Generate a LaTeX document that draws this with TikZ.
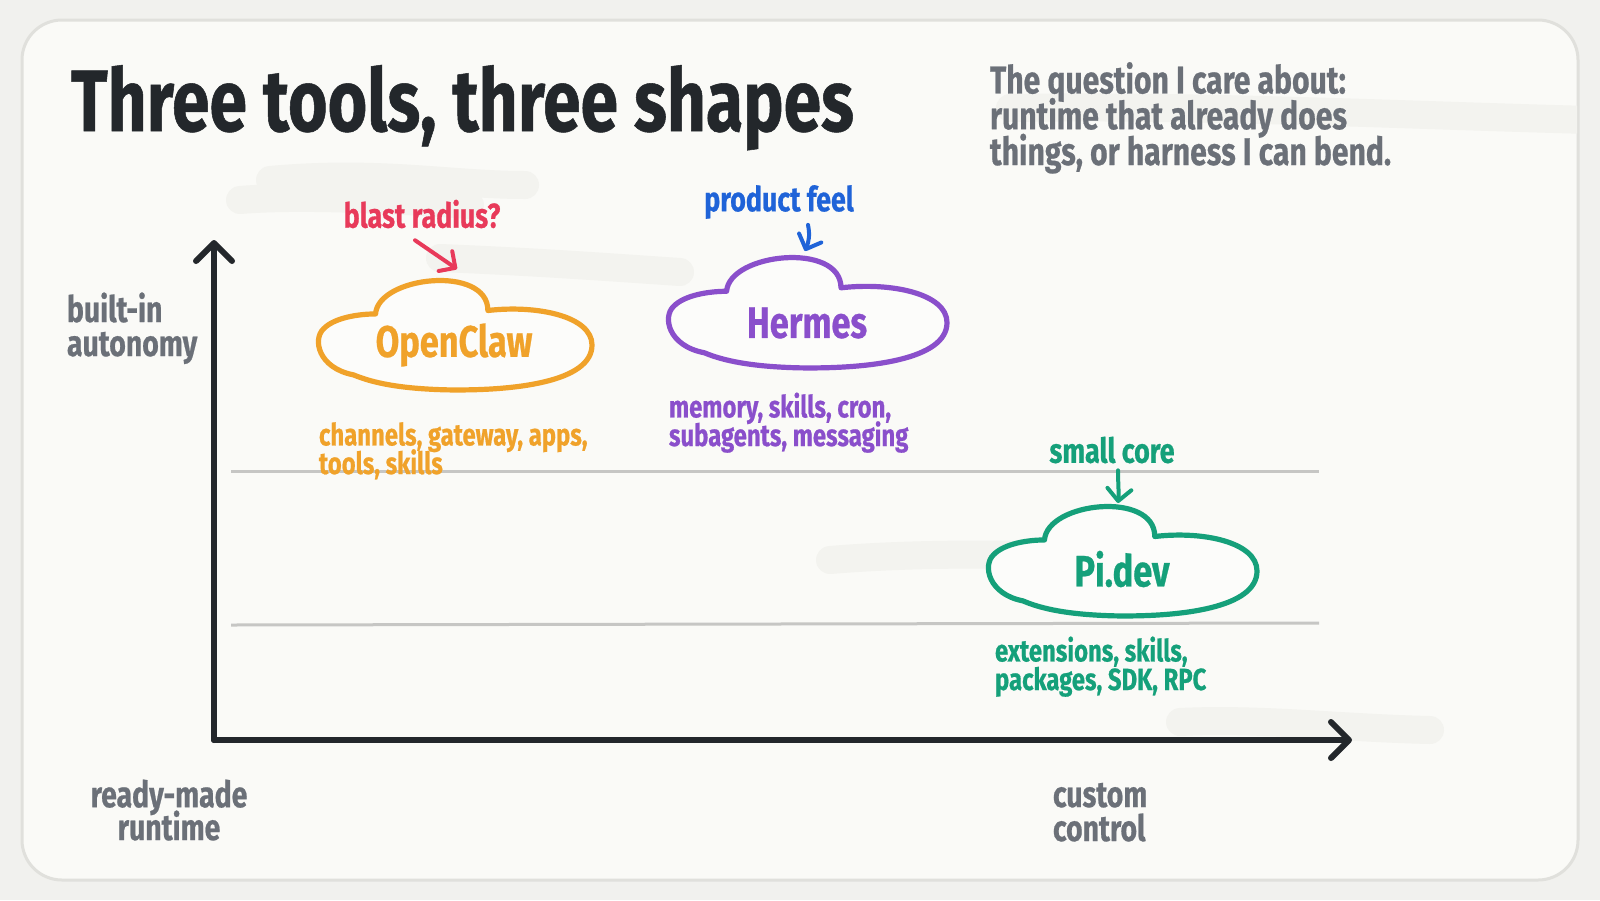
\documentclass[tikz,border=0pt]{standalone}
\usepackage{fontspec}
\setmainfont{Fira Sans}[FakeStretch=0.78, BoldFeatures={FakeBold=0.6}]
\usetikzlibrary{arrows.meta,calc}
\definecolor{ink}{HTML}{23272B}
\definecolor{graytxt}{HTML}{6B7078}
\definecolor{orng}{HTML}{F0A22A}
\definecolor{redc}{HTML}{E83A5A}
\definecolor{purp}{HTML}{8A4FCB}
\definecolor{bluec}{HTML}{1F63D8}
\definecolor{grnc}{HTML}{15A07A}
\definecolor{gridc}{HTML}{C6C6C4}
\definecolor{framec}{HTML}{E0E0DC}
\definecolor{outerbg}{HTML}{F1F1EE}
\definecolor{innerbg}{HTML}{FAFAF7}
\definecolor{brush}{HTML}{F3F3EF}
\definecolor{cloudfill}{HTML}{FCFCFA}
\newcommand{\tightlines}{\lineskiplimit=-30pt\lineskip=0pt}
\tikzset{
  cloudline/.style={line width=2.6pt, line cap=round, line join=round, fill=cloudfill},
  axisline/.style={line width=3pt, draw=ink, line cap=round, -{Straight Barb[length=9pt,width=18pt,line width=3pt,round]}},
  gridline/.style={line width=1.5pt, draw=gridc},
  notearrow/.style={line width=2pt, line cap=round, -{Straight Barb[length=6pt,width=12pt,line width=2pt,round]}},
  brushstroke/.style={line width=14pt, draw=brush, line cap=round},
  txt/.style={inner sep=0pt, outer sep=0pt, font=\bfseries},
  small/.style={txt, align=left, font=\bfseries\fontsize{15.3}{14.3}\selectfont\tightlines},
  axlbl/.style={txt, text=graytxt, font=\bfseries\fontsize{18.2}{17}\selectfont\tightlines},
  cloudlbl/.style={txt, font=\bfseries\fontsize{22}{24}\selectfont},
  notelbl/.style={txt, font=\bfseries\fontsize{17.2}{18}\selectfont},
}
\newcommand{\mycloud}[5]{%
  \begin{scope}[shift={(#1,#2)}, xscale=#3, yscale=#4]
    \draw[cloudline, draw=#5] (0.21,0.33)
      .. controls (0.22,0.0) and (0.62,-0.1) .. (0.62,0.30)
      .. controls (0.80,0.25) and (1.0,0.35) .. (1.0,0.6)
      .. controls (1.0,0.92) and (0.72,1.0) .. (0.47,0.99)
      .. controls (0.30,0.98) and (0.20,0.93) .. (0.13,0.86)
      .. controls (0.0,0.80) and (-0.02,0.55) .. (0.02,0.46)
      .. controls (0.06,0.36) and (0.15,0.33) .. (0.21,0.33) -- cycle;
  \end{scope}}
\begin{document}
\begin{tikzpicture}[x=0.5pt, y=-0.5pt]
\useasboundingbox (0,0) rectangle (1600,900);
\fill[outerbg] (0,0) rectangle (1600,900);
\draw[line width=1.5pt, draw=framec, fill=innerbg, rounded corners=20pt] (22,20) rectangle (1578,880);
% faint brush strokes
\begin{scope}
\clip[rounded corners=20pt] (23,21) rectangle (1577,879);
\draw[brushstroke] (270,180) .. controls (380,170) and (450,185) .. (525,185);
\draw[brushstroke] (440,258) .. controls (540,262) and (620,268) .. (680,272);
\draw[brushstroke] (1010,108) .. controls (1200,105) and (1400,115) .. (1590,120);
\draw[brushstroke] (830,560) .. controls (950,550) and (1100,555) .. (1240,565);
\draw[brushstroke] (1180,722) .. controls (1260,718) and (1340,728) .. (1430,730);
\draw[brushstroke] (240,200) .. controls (300,195) and (400,200) .. (470,205);
\end{scope}
% title & subtitle
\node[txt, anchor=base west, text=ink, font=\bfseries\fontsize{43.5}{46}\selectfont] (title) at (71,131) {Three tools, three shapes};
\node[txt, anchor=base west, text=graytxt, align=left, font=\bfseries\fontsize{19.3}{17.9}\selectfont\tightlines] (sub) at (990,165) {The question I care about:\\runtime that already does\\things, or harness I can bend.};
% grid lines
\coordinate (g1a) at (231,471); \coordinate (g1b) at (1319,471);
\coordinate (g2a) at (231,625); \coordinate (g2b) at (1319,623);
\draw[gridline] (g1a) -- (g1b);
\draw[gridline] (g2a) -- (g2b);
% axes
\coordinate (origin) at (214,740);
\coordinate (ytip) at (214,240);
\coordinate (xtip) at (1352,740);
\draw[axisline] (origin) -- (ytip);
\draw[axisline] (origin) -- (xtip);
\node[axlbl, anchor=base west, align=left] (ylbl) at (67,356) {built-in\\autonomy};
\node[axlbl, anchor=base, align=center, font=\bfseries\fontsize{18.2}{16.4}\selectfont\tightlines] (xlbl1) at (169,840) {ready-made\\runtime};
\node[axlbl, anchor=base west, align=left] (xlbl2) at (1053,841) {custom\\control};
% clouds
\mycloud{318}{276}{274}{115}{orng}
\mycloud{668}{253}{279}{116}{purp}
\mycloud{988}{502}{269}{115}{grnc}
\node[cloudlbl, text=orng] (openclaw) at (454,345) {OpenClaw};
\node[cloudlbl, text=purp] (hermes) at (807,323) {Hermes};
\node[cloudlbl, text=grnc] (pidev) at (1122,569) {Pi.dev};
\node[small, text=orng, anchor=base west] (ocdesc) at (319,474) {channels, gateway, apps,\\tools, skills};
\node[small, text=purp, anchor=base west] (hmdesc) at (669,446) {memory, skills, cron,\\subagents, messaging};
\node[small, text=grnc, anchor=base west] (pidesc) at (995,690) {extensions, skills,\\packages, SDK, RPC};
% notes
\node[notelbl, text=redc] (blast) at (422,214) {blast radius?};
\node[notelbl, text=bluec] (prod) at (779,202) {product feel};
\node[notelbl, text=grnc] (core) at (1112,450) {small core};
\coordinate (octop) at (457,269);
\coordinate (hmtop) at (805,251);
\coordinate (pitop) at (1118,503);
\coordinate (ocfrom) at ($(blast.south)+(-7,12)$);
\coordinate (hmfrom) at ($(prod.south)+(29,6)$);
\coordinate (pifrom) at ($(core.south)+(6,7)$);
\draw[notearrow, draw=redc] (ocfrom) -- (octop);
\draw[notearrow, draw=bluec] (hmfrom) .. controls +(2,10) and +(4,-10) .. (hmtop);
\draw[notearrow, draw=grnc] (pifrom) .. controls +(0,12) and +(1,-10) .. (pitop);
\end{tikzpicture}
\end{document}
